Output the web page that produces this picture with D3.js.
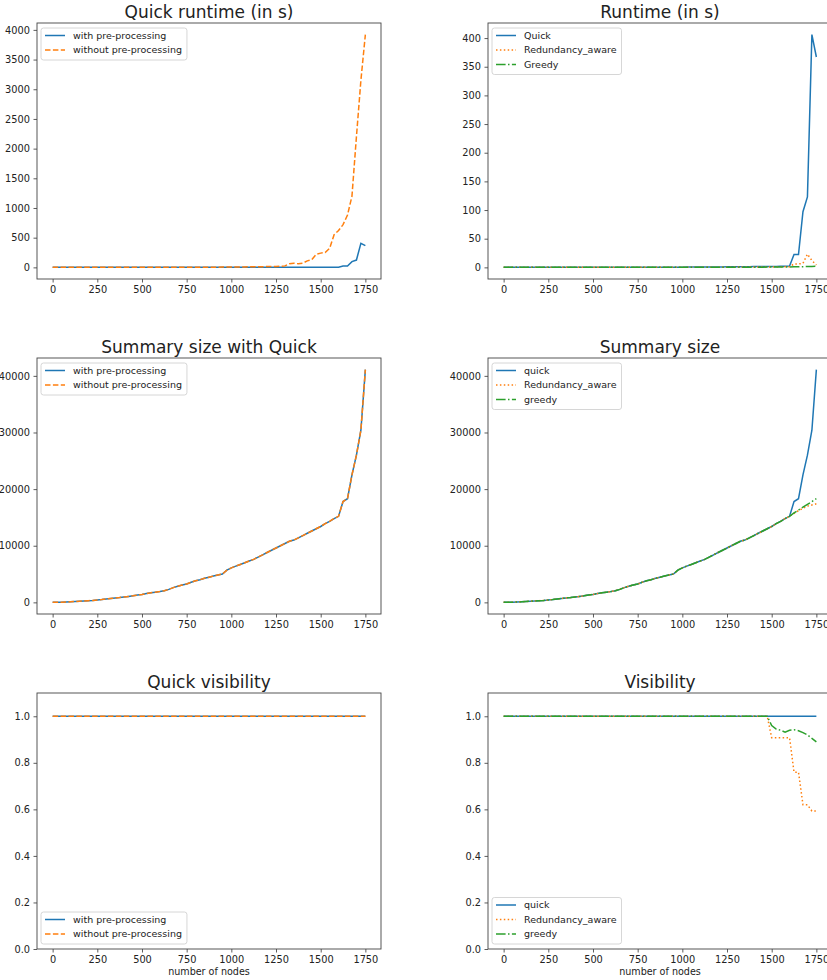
<!DOCTYPE html>
<html>
<head>
<meta charset="utf-8">
<script src="https://cdn.jsdelivr.net/npm/d3@7"></script>
<style>
  body { margin: 0; background: #fff; }
  text { font-family: "DejaVu Sans", sans-serif; fill: #222; }
</style>
</head>
<body>
<div id="chart"></div>
<script>
// --- data (x = number of nodes) ---
const nodes = [0,25,50,75,100,125,150,175,200,225,
  250,275,300,325,350,375,400,425,450,475,
  500,525,550,575,600,625,650,675,700,725,
  750,775,800,825,850,875,900,925,950,975,
  1000,1025,1050,1075,1100,1125,1150,1175,1200,1225,
  1250,1275,1300,1325,1350,1375,1400,1425,1450,1475,
  1500,1525,1550,1575,1600,1625,1650,1675,1700,1725,
  1750];

// runtime in s
const quickRuntime = [0,0,0,0,0,0,0,0,0,0,
  0,0,0,0,0,0,0,0,0,0.1,
  0.1,0.1,0.1,0.1,0.1,0.1,0.1,0.1,0.2,0.2,
  0.2,0.2,0.2,0.2,0.3,0.3,0.3,0.3,0.4,0.4,
  0.4,0.5,0.5,0.5,0.6,0.6,0.7,0.7,0.8,0.8,
  0.9,0.9,1.0,1.0,1.1,1.2,1.3,1.3,1.4,1.5,
  1.5,1.6,1.8,2.0,2.2,22.5,22.5,97,123,406,
  367];
const quickRuntimeNoPre = [0,0,0,0,0,0,0,0,0,0,
  0,0,0,0,0,0.1,0.1,0.1,0.2,0.2,
  0.3,0.3,0.4,0.5,0.6,0.7,0.8,1,1.2,1.4,
  1.6,1.8,2,2.3,2.6,3,3.4,3.8,4.3,4.9,
  5.5,6,7,8,9,10,11,12,13,14,
  16,18,25,60,70,60,70,110,130,220,
  240,250,320,550,620,720,880,1200,2200,3150,
  3920];
const redundancyRuntime = [0,0,0,0,0,0,0,0,0,0,
  0,0,0,0,0,0,0,0,0,0,
  0,0,0,0,0,0,0,0,0.1,0.1,
  0.1,0.1,0.1,0.1,0.1,0.1,0.1,0.1,0.2,0.2,
  0.2,0.2,0.2,0.2,0.3,0.3,0.3,0.3,0.3,0.4,
  0.4,0.4,0.5,0.5,0.5,0.6,0.6,0.7,0.7,0.8,
  0.8,0.9,1.0,1.1,1.2,6,6,7,23,12,
  4];
const greedyRuntime = [0,0,0,0,0,0,0,0,0,0,
  0,0,0,0,0,0,0,0,0,0,
  0,0,0,0,0,0,0,0,0,0,
  0,0,0,0,0,0,0,0,0.1,0.1,
  0.1,0.1,0.1,0.1,0.1,0.1,0.1,0.2,0.2,0.2,
  0.2,0.2,0.3,0.3,0.3,0.3,0.4,0.4,0.4,0.5,
  0.5,0.6,0.6,0.7,0.8,0.9,1.0,1.2,1.4,1.6,
  1.8];

// summary size
const quickSize = [0,10,30,60,100,150,200,250,300,350,
  420,500,600,700,780,850,950,1050,1150,1300,
  1400,1550,1700,1800,1900,2050,2300,2600,2850,3050,
  3250,3550,3800,4000,4250,4450,4650,4850,5000,5700,
  6100,6400,6700,7000,7300,7600,8000,8400,8800,9200,
  9600,10000,10400,10800,11000,11400,11800,12200,12600,13000,
  13400,13900,14300,14800,15200,17800,18300,22500,26000,30400,
  41100];
const quickSizeNoPre = [0,10,30,60,100,150,200,250,300,350,
  420,500,600,700,780,850,950,1050,1150,1300,
  1400,1550,1700,1800,1900,2050,2300,2600,2850,3050,
  3250,3550,3800,4000,4250,4450,4650,4850,5000,5700,
  6100,6400,6700,7000,7300,7600,8000,8400,8800,9200,
  9600,10000,10400,10800,11000,11400,11800,12200,12600,13000,
  13400,13900,14300,14800,15200,17800,18300,22500,26000,30400,
  41100];
const redundancySize = [0,10,30,60,100,150,200,250,300,350,
  420,500,600,700,780,850,950,1050,1150,1300,
  1400,1550,1700,1800,1900,2050,2300,2600,2850,3050,
  3250,3550,3800,4000,4250,4450,4650,4850,5000,5700,
  6100,6400,6700,7000,7300,7600,8000,8400,8800,9200,
  9600,10000,10400,10800,11000,11400,11800,12200,12600,13000,
  13400,13900,14300,14800,15200,15700,16200,16600,17000,17200,
  17400];
const greedySize = [0,10,30,60,100,150,200,250,300,350,
  420,500,600,700,780,850,950,1050,1150,1300,
  1400,1550,1700,1800,1900,2050,2300,2600,2850,3050,
  3250,3550,3800,4000,4250,4450,4650,4850,5000,5700,
  6100,6400,6700,7000,7300,7600,8000,8400,8800,9200,
  9600,10000,10400,10800,11000,11400,11800,12200,12600,13000,
  13400,13900,14300,14800,15200,15800,16300,16800,17300,17800,
  18300];

// visibility
const quickVis = [1,1,1,1,1,1,1,1,1,1, 1,1,1,1,1,1,1,1,1,1,
  1,1,1,1,1,1,1,1,1,1, 1,1,1,1,1,1,1,1,1,1,
  1,1,1,1,1,1,1,1,1,1, 1,1,1,1,1,1,1,1,1,1,
  1,1,1,1,1,1,1,1,1,1, 1];
const quickVisNoPre = [1,1,1,1,1,1,1,1,1,1, 1,1,1,1,1,1,1,1,1,1,
  1,1,1,1,1,1,1,1,1,1, 1,1,1,1,1,1,1,1,1,1,
  1,1,1,1,1,1,1,1,1,1, 1,1,1,1,1,1,1,1,1,1,
  1,1,1,1,1,1,1,1,1,1, 1];
const redundancyVis = [1,1,1,1,1,1,1,1,1,1, 1,1,1,1,1,1,1,1,1,1,
  1,1,1,1,1,1,1,1,1,1, 1,1,1,1,1,1,1,1,1,1,
  1,1,1,1,1,1,1,1,1,1, 1,1,1,1,1,1,1,1,1,1,
  0.908,0.908,0.908,0.908,0.908,0.76,0.76,0.62,0.62,0.593,
  0.593];
const greedyVis = [1,1,1,1,1,1,1,1,1,1, 1,1,1,1,1,1,1,1,1,1,
  1,1,1,1,1,1,1,1,1,1, 1,1,1,1,1,1,1,1,1,1,
  1,1,1,1,1,1,1,1,1,1, 1,1,1,1,1,1,1,1,1,1,
  0.96,0.945,0.94,0.932,0.94,0.942,0.938,0.93,0.92,0.905,
  0.89];

// tick labels
const xTicks = [0,250,500,750,1000,1250,1500,1750];
const quickRuntimeTicks = [0,500,1000,1500,2000,2500,3000,3500,4000];
const runtimeTicks = [0,50,100,150,200,250,300,350,400];
const sizeTicks = [0,10000,20000,30000,40000];
const visTicks = [0,0.2,0.4,0.6,0.8,1.0];

// --- styles ---
const C = { blue: "#1f77b4", orange: "#ff7f0e", green: "#2ca02c" };
const DASH = { solid: null, dashed: "5.5,2.4", dotted: "1.5,2.4", dashdot: "9.6,2.4,1.5,2.4" };

const panels = [
  { title: "Quick runtime (in s)", row: 0, col: 0, yTicks: quickRuntimeTicks, legend: "upper",
    series: [
      { label: "with pre-processing", values: quickRuntime, color: C.blue, dash: "solid" },
      { label: "without pre-processing", values: quickRuntimeNoPre, color: C.orange, dash: "dashed" }] },
  { title: "Runtime (in s)", row: 0, col: 1, yTicks: runtimeTicks, legend: "upper",
    series: [
      { label: "Quick", values: quickRuntime, color: C.blue, dash: "solid" },
      { label: "Redundancy_aware", values: redundancyRuntime, color: C.orange, dash: "dotted" },
      { label: "Greedy", values: greedyRuntime, color: C.green, dash: "dashdot" }] },
  { title: "Summary size with Quick", row: 1, col: 0, yTicks: sizeTicks, legend: "upper",
    series: [
      { label: "with pre-processing", values: quickSize, color: C.blue, dash: "solid" },
      { label: "without pre-processing", values: quickSizeNoPre, color: C.orange, dash: "dashed" }] },
  { title: "Summary size", row: 1, col: 1, yTicks: sizeTicks, legend: "upper",
    series: [
      { label: "quick", values: quickSize, color: C.blue, dash: "solid" },
      { label: "Redundancy_aware", values: redundancySize, color: C.orange, dash: "dotted" },
      { label: "greedy", values: greedySize, color: C.green, dash: "dashdot" }] },
  { title: "Quick visibility", row: 2, col: 0, yTicks: visTicks, yDomain: [0, 1.1], legend: "lower", xlabel: true,
    series: [
      { label: "with pre-processing", values: quickVis, color: C.blue, dash: "solid" },
      { label: "without pre-processing", values: quickVisNoPre, color: C.orange, dash: "dashed" }] },
  { title: "Visibility", row: 2, col: 1, yTicks: visTicks, yDomain: [0, 1.1], legend: "lower", xlabel: true,
    series: [
      { label: "quick", values: quickVis, color: C.blue, dash: "solid" },
      { label: "Redundancy_aware", values: redundancyVis, color: C.orange, dash: "dotted" },
      { label: "greedy", values: greedyVis, color: C.green, dash: "dashdot" }] }
];

// --- layout ---
const W = 827, H = 980;
const colX = [37, 488], rowY = [23, 358, 693];
const pw = 344, ph = 256;

const svg = d3.select("#chart").append("svg").attr("width", W).attr("height", H);

const xExt = d3.extent(nodes);
const xPad = (xExt[1] - xExt[0]) * 0.05;

panels.forEach((p, i) => {
  const left = colX[p.col], top = rowY[p.row];
  const g = svg.append("g").attr("transform", `translate(${left},${top})`);

  const x = d3.scaleLinear().domain([xExt[0] - xPad, xExt[1] + xPad]).range([0, pw]);
  let yDom = p.yDomain;
  if (!yDom) {
    const lo = d3.min(p.series, s => d3.min(s.values));
    const hi = d3.max(p.series, s => d3.max(s.values));
    const pad = (hi - lo) * 0.05;
    yDom = [lo - pad, hi + pad];
  }
  const y = d3.scaleLinear().domain(yDom).range([ph, 0]);

  g.append("clipPath").attr("id", "clip" + i)
    .append("rect").attr("width", pw).attr("height", ph);

  const line = d3.line().x((d, k) => x(nodes[k])).y(d => y(d));
  const lines = g.append("g").attr("clip-path", `url(#clip${i})`);
  p.series.forEach(s => {
    lines.append("path")
      .attr("d", line(s.values))
      .attr("fill", "none")
      .attr("stroke", s.color)
      .attr("stroke-width", 1.5)
      .attr("stroke-dasharray", DASH[s.dash]);
  });

  // axes
  const fmtY = p.yDomain ? d3.format(".1f") : d3.format("d");
  const xAxis = g.append("g").attr("transform", `translate(0,${ph})`)
    .call(d3.axisBottom(x).tickValues(xTicks).tickFormat(d3.format("d")).tickSize(3.5).tickPadding(3.5));
  const yAxis = g.append("g")
    .call(d3.axisLeft(y).tickValues(p.yTicks).tickFormat(fmtY).tickSize(3.5).tickPadding(3.5));
  [xAxis, yAxis].forEach(a => {
    a.select(".domain").remove();
    a.selectAll("line").attr("stroke", "#333").attr("stroke-width", 0.8);
    a.selectAll("text").style("font-size", "9.8px").style("font-family", "DejaVu Sans").attr("fill", "#222");
  });

  g.append("rect").attr("width", pw).attr("height", ph)
    .attr("fill", "none").attr("stroke", "#444").attr("stroke-width", 0.9);

  g.append("text").attr("x", pw / 2).attr("y", -5)
    .attr("text-anchor", "middle").style("font-size", "17px").text(p.title);

  if (p.xlabel) {
    g.append("text").attr("x", pw / 2).attr("y", ph + 26)
      .attr("text-anchor", "middle").style("font-size", "9.6px").text("number of nodes");
  }

  // legend
  const rowH = 14.5;
  const lg = g.append("g");
  const box = lg.append("rect").attr("rx", 2.5).attr("fill", "#fff").attr("fill-opacity", 0.8)
    .attr("stroke", "#ccc").attr("stroke-width", 0.8);
  let maxLen = 0;
  p.series.forEach((s, k) => {
    const cy = 7.5 + k * rowH;
    lg.append("line").attr("x1", 4).attr("x2", 24).attr("y1", cy).attr("y2", cy)
      .attr("stroke", s.color).attr("stroke-width", 1.5).attr("stroke-dasharray", DASH[s.dash]);
    const t = lg.append("text").attr("x", 32).attr("y", cy).attr("dy", "0.35em")
      .style("font-size", "9.5px").text(s.label);
    maxLen = Math.max(maxLen, t.node().getComputedTextLength());
  });
  const bw = 32 + maxLen + 5, bh = p.series.length * rowH + 3;
  box.attr("width", bw).attr("height", bh);
  const ly = p.legend === "upper" ? 5 : ph - 5 - bh;
  lg.attr("transform", `translate(4,${ly})`);
});
</script>
</body>
</html>
